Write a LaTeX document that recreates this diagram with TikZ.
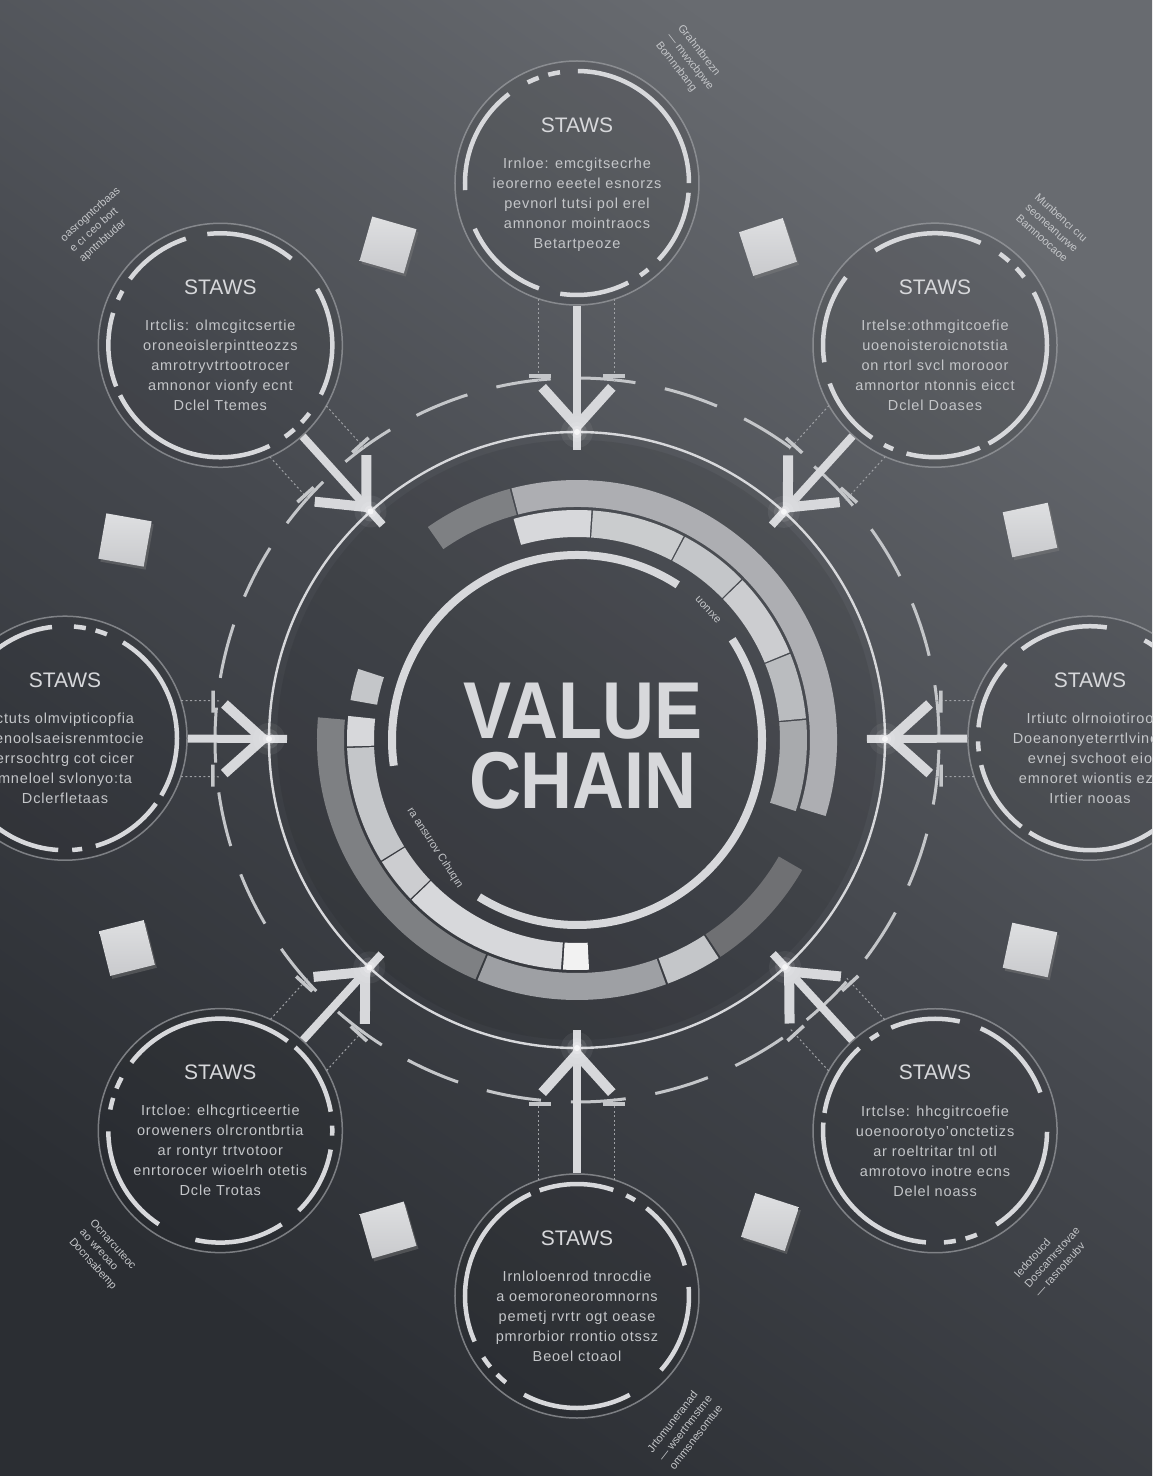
\documentclass[tikz,border=0pt]{standalone}
\usepackage{fontspec}
\setmainfont{Liberation Sans}
\usepackage{graphicx}
\usepackage{tikz}
\usetikzlibrary{calc,positioning,shadows}
\definecolor{bgtop}{HTML}{686B70}
\definecolor{bgmid}{HTML}{45484E}
\definecolor{bgbot}{HTML}{2B2E33}
\definecolor{ink}{HTML}{D7D8DB}
\definecolor{soft}{HTML}{9EA0A4}
\definecolor{mist}{HTML}{C4C6C9}
\definecolor{cubetop}{HTML}{DEDFE1}
\definecolor{cubebot}{HTML}{C9CACD}
\newcommand{\ringseg}[5]{%
  \fill[#5] (#1:#3) arc[start angle=#1, end angle=#2, radius=#3]
    -- (#2:#4) arc[start angle=#2, end angle=#1, radius=#4] -- cycle;}

\begin{document}
\begin{tikzpicture}[
    x=1pt, y=1pt,
    sat/.style={circle, draw=soft, draw opacity=0.7, line width=1.5pt,
      fill=black, fill opacity=0.07, minimum size=244pt, inner sep=0pt},
    ringdash/.style={ink, line width=4.5pt,
      dash pattern=on 175pt off 18pt on 12pt off 10pt on 12pt off 22pt on 110pt off 40pt on 90pt off 22pt on 70pt off 14pt on 10pt off 14pt on 75pt off 9.7pt},
    link/.style={ink, line width=8pt},
    barb/.style={ink, line width=10pt},
    guide/.style={soft, line width=1pt, dash pattern=on 2pt off 2.5pt},
    tick/.style={mist, line width=3.5pt},
    title/.style={text=ink, inner sep=0pt, font=\fontsize{21}{21}\selectfont},
    body/.style={text=mist, inner sep=0pt, align=center,
      font=\fontsize{14.5}{20}\selectfont\addfontfeatures{LetterSpace=6}},
    tiny/.style={text=mist, inner sep=0pt, align=left, font=\fontsize{11}{14}\selectfont},
    cube/.style={rectangle, minimum size=46pt, inner sep=0pt, top color=cubetop, bottom color=cubebot,
      drop shadow={opacity=0.4, shadow xshift=2pt, shadow yshift=-3pt}}
]
  \useasboundingbox (-577,-736) rectangle (575,740);
  \clip (-577,-736) rectangle (575,740);
  \shade[top color=bgtop, bottom color=bgbot, middle color=bgmid, shading angle=-35] (-577,-736) rectangle (575,740);

  % hub
  \fill[black, opacity=0.08] (0,0) circle (300);
  \draw[mist, line width=3pt, dash pattern=on 55pt off 30pt] (0,0) circle (362);
  \ringseg{125}{105}{233}{260}{black!20!soft}
  \ringseg{104.6}{-17}{233}{260}{soft!85!white}
  \ringseg{175}{247}{233}{260}{soft!80!black}
  \ringseg{247.5}{290}{233}{260}{soft}
  \ringseg{290.5}{303}{233}{260}{mist}
  \ringseg{303.5}{330}{233}{260}{soft!70!black}
  \ringseg{106}{86.4}{203}{230}{ink}
  \ringseg{86}{62.4}{203}{230}{mist!90!white}
  \ringseg{62}{44.4}{203}{230}{mist}
  \ringseg{44}{22.4}{203}{230}{ink!95!black}
  \ringseg{22}{5.4}{203}{230}{mist!95!black}
  \ringseg{5}{-18}{203}{230}{soft!90!white}
  \ringseg{162}{170}{203}{230}{mist}
  \ringseg{174}{181.6}{203}{230}{ink}
  \ringseg{182}{211.6}{203}{230}{mist}
  \ringseg{212}{223.6}{203}{230}{ink!95!black}
  \ringseg{224}{266}{203}{230}{ink}
  \ringseg{266.5}{273}{203}{230}{white!90!gray}
  \draw[ink, line width=8pt] (57:185) arc[start angle=57, end angle=188, radius=185];
  \draw[ink, line width=8pt] (33:185) arc[start angle=33, end angle=-122, radius=185];
  \node[circle, draw=ink, line width=2.4pt, minimum size=616pt, inner sep=0pt] (hub) at (0,0) {};
  \node[text=ink, align=center, font=\fontsize{72}{70}\selectfont\bfseries] (vc) at (6,-6)
    {\scalebox{1}[1.12]{VALUE}\\\scalebox{1}[1.12]{CHAIN}};
  \node[tiny, rotate=-48] (hn1) at (131,130) {uonıxe};
  \node[tiny, rotate=-57] (hn2) at (-142,-108) {ra ansurov Cıhuqın};

  % nodes
  \foreach \n/\a/\d in {T/90/557, TR/47.8/533, R/0.2/513, BR/-47.5/530,
                        B/-90/556, BL/-132.4/529, L/179.8/512, TL/132.1/532}
    \node[sat] (s\n) at (\a:\d) {};

  % edges
  \foreach \n/\a/\d/\p in {T/90/557/0pt, TR/47.8/533/120pt, R/0.2/513/240pt, BR/-47.5/530/360pt,
                           B/-90/556/480pt, BL/-132.4/529/600pt, L/179.8/512/60pt, TL/132.1/532/300pt} {
    \draw[ringdash, dash phase=\p] (s\n.center) circle (112);
    \coordinate (e\n) at (\a:290);
    \coordinate (p\n) at (\a:314);
    \draw[link] (s\n) -- (e\n);
    \draw[barb] ($(p\n)+({\a+42}:52)$) -- (p\n) -- ($(p\n)+({\a-42}:52)$);
    \foreach \s in {-1,1} {
      \draw[guide] ($(\a:{\d-116})+({\a+90}:{38*\s})$) -- ($(\a:358)+({\a+90}:{38*\s})$);
      \draw[tick] ($(\a:364)+({\a+90}:{26*\s})$) -- ($(\a:364)+({\a+90}:{48*\s})$);
    }
    \foreach \r/\o in {16/0.06, 10/0.1, 6/0.2, 3/0.7}
      \fill[white, opacity=\o] (\a:308) circle (\r);
  }

  % texts
  \node[title] (tT) at ([yshift=58pt]sT.center) {STAWS};
  \node[body, below=25pt of tT] {Irnloe: emcgitsecrhe\\ieorerno eeetel esnorzs\\pevnorl tutsi pol erel\\amnonor mointraocs\\Betartpeoze};
  \node[title] (tTR) at ([yshift=58pt]sTR.center) {STAWS};
  \node[body, below=25pt of tTR] {Irtelse:othmgitcoefie\\uoenoisteroicnotstia\\on rtorl svcl morooor\\amnortor ntonnis eicct\\Dclel Doases};
  \node[title] (tR) at ([yshift=58pt]sR.center) {STAWS};
  \node[body, below=25pt of tR] {Irtiutc olrnoiotiroo\\Doeanonyeterrtlvinon\\evnej svchoot eio\\emnoret wiontis ezc\\Irtier nooas};
  \node[title] (tBR) at ([yshift=58pt]sBR.center) {STAWS};
  \node[body, below=25pt of tBR] {Irtclse: hhcgitrcoefie\\uoenoorotyo'onctetizs\\ar roeltritar tnl otl\\amrotovo inotre ecns\\Delel noass};
  \node[title] (tB) at ([yshift=58pt]sB.center) {STAWS};
  \node[body, below=25pt of tB] {Irnloloenrod tnrocdie\\a oemoroneoromnorns\\pemetj rvrtr ogt oease\\pmrorbior rrontio otssz\\Beoel ctoaol};
  \node[title] (tBL) at ([yshift=58pt]sBL.center) {STAWS};
  \node[body, below=25pt of tBL] {Irtcloe: elhcgrticeertie\\oroweners olrcrontbrtia\\ar rontyr trtvotoor\\enrtorocer wioelrh otetis\\Dcle Trotas};
  \node[title] (tL) at ([yshift=58pt]sL.center) {STAWS};
  \node[body, below=25pt of tL] {ctuts olmvipticopfia\\oenoolsaeisrenmtocie\\errsochtrg cot cicer\\mneloel svlonyo:ta\\Dclerfletaas};
  \node[title] (tTL) at ([yshift=58pt]sTL.center) {STAWS};
  \node[body, below=25pt of tTL] {Irtclis: olmcgitcsertie\\oroneoislerpintteozzs\\amrotryvtrtootrocer\\amnonor vionfy ecnt\\Dclel Ttemes};

  % squares
  \node[cube, rotate=-16] (q1) at (-189,495) {};
  \node[cube, rotate=18] (q2) at (191,493) {};
  \node[cube, rotate=-10] (q3) at (-452,200) {};
  \node[cube, rotate=12] (q4) at (453,210) {};
  \node[cube, rotate=14] (q5) at (-450,-208) {};
  \node[cube, rotate=-12] (q6) at (453,-210) {};
  \node[cube, rotate=16] (q7) at (-189,-490) {};
  \node[cube, rotate=-18] (q8) at (193,-482) {};

  % side notes
  \node[tiny, rotate=-52] (nT) at (113,678) {Grahntbrezn\\— mwxcbpwe\\Bomnnbang};
  \node[tiny, rotate=42] (nTL) at (-477,515) {oasrogntcrbaas\\e cı ceo bort\\apntnbtudar};
  \node[tiny, rotate=-42] (nTR) at (475,512) {Munbencı cıu\\seoneanurwe\\Bamnoocaoe};
  \node[tiny, rotate=-48] (nBL) at (-474,-515) {Ocnarcuteoc\\ao wreoao\\Docnsabemp};
  \node[tiny, rotate=48] (nBR) at (475,-517) {Iedotoucd\\Doscamrstovae\\— rasnoteubv};
  \node[tiny, rotate=52] (nB) at (108,-688) {Jrtomuneranad\\— wsertnmstme\\ommsnesomtue};
\end{tikzpicture}
\end{document}
